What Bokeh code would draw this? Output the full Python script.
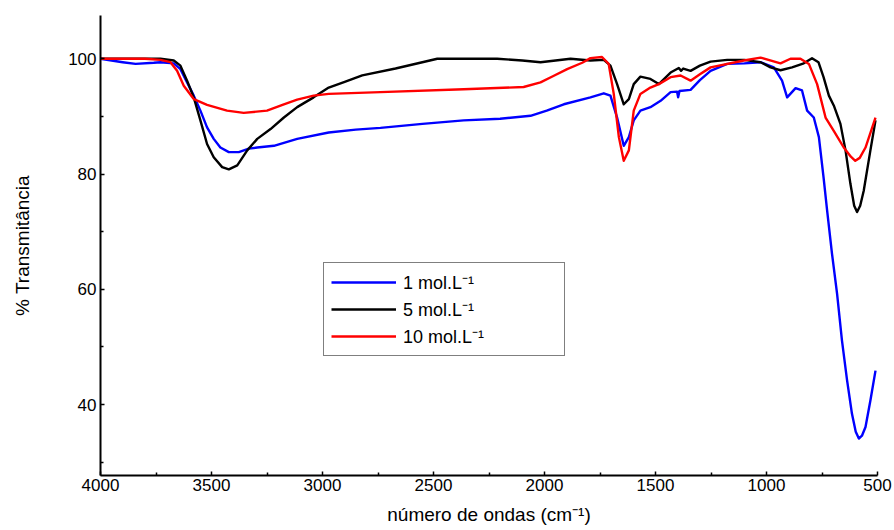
from bokeh.plotting import figure
from bokeh.models import Range1d, Legend, LegendItem, FixedTicker
from bokeh.embed import file_html
from bokeh.resources import INLINE

# 1 mol.L-1 (blue)
x1 = [4000, 3900, 3842, 3760, 3730, 3670, 3640, 3610, 3580, 3550, 3520, 3490, 3460, 3422, 3377, 3332, 3294, 3219,
      3114, 2972, 2850, 2739, 2550, 2364, 2200, 2063, 1990, 1913, 1793, 1733, 1703, 1673, 1643, 1620, 1598, 1568,
      1523, 1477, 1432, 1403, 1398, 1392, 1342, 1300, 1252, 1177, 1100, 1027, 967, 930, 907, 869, 840, 817, 787,
      764, 743, 727, 705, 682, 660, 637, 615, 598, 584, 570, 554, 532, 509]
y1 = [100, 99.4, 99.1, 99.3, 99.4, 99.2, 98.2, 95.9, 93.6, 91.0, 88.1, 86.1, 84.6, 83.8, 83.8, 84.4, 84.6, 84.9,
      86.1, 87.2, 87.7, 88.0, 88.7, 89.3, 89.6, 90.1, 91.0, 92.1, 93.3, 94.0, 93.6, 89.8, 84.9, 86.4, 89.3, 91.0,
      91.6, 92.7, 94.2, 94.3, 93.3, 94.4, 94.6, 96.3, 97.9, 99.1, 99.2, 99.4, 98.5, 96.2, 93.3, 94.9, 94.5, 91.0, 89.8,
      86.4, 79.4, 73.7, 66.2, 59.2, 51.1, 44.2, 38.4, 35.3, 34.1, 34.6, 36.1, 40.7, 45.9]

# 5 mol.L-1 (black)
x5 = [4000, 3800, 3730, 3670, 3640, 3610, 3580, 3550, 3520, 3490, 3452, 3422, 3384, 3339, 3294, 3234, 3174, 3114,
      3040, 2972, 2900, 2821, 2671, 2560, 2483, 2213, 2100, 2018, 1950, 1883, 1793, 1733, 1703, 1673, 1643, 1620,
      1598, 1568, 1523, 1485, 1432, 1395, 1385, 1375, 1342, 1300, 1252, 1177, 1100, 1027, 982, 937, 885, 832, 795,
      766, 743, 719, 697, 667, 644, 622, 605, 592, 578, 562, 532, 509]
y5 = [100, 100, 100, 99.7, 98.8, 96.2, 93.3, 89.3, 85.2, 82.9, 81.2, 80.8, 81.5, 84.1, 86.1, 87.8, 89.8, 91.6,
      93.3, 95.0, 96.0, 97.1, 98.3, 99.3, 100, 100, 99.7, 99.4, 99.7, 100, 99.7, 99.8, 98.8, 95.6, 92.1, 93.0,
      95.6, 96.9, 96.5, 95.6, 97.6, 98.4, 97.9, 98.3, 97.9, 98.8, 99.5, 99.8, 99.8, 99.4, 98.5, 98.0, 98.5, 99.2, 100.1,
      99.4, 96.8, 93.6, 91.9, 88.7, 84.1, 78.3, 74.5, 73.4, 74.5, 77.1, 84.1, 89.3]

# 10 mol.L-1 (red)
x10 = [4000, 3800, 3730, 3685, 3655, 3625, 3580, 3520, 3430, 3355, 3250, 3174, 3114, 3040, 2972, 2739, 2364, 2094,
       2018, 1960, 1898, 1830, 1793, 1741, 1711, 1688, 1665, 1643, 1620, 1598, 1568, 1523, 1485, 1432, 1387, 1342,
       1300, 1252, 1102, 1027, 937, 892, 847, 809, 772, 734, 697, 652, 620, 600, 580, 554, 509]
y10 = [100, 100, 99.8, 99.4, 97.9, 95.3, 93.0, 92.0, 91.0, 90.6, 91.0, 92.1, 92.9, 93.6, 93.9, 94.2, 94.7, 95.1,
       95.9, 97.0, 98.2, 99.3, 100.1, 100.3, 99.1, 93.9, 86.4, 82.3, 84.1, 91.0, 93.9, 95.0, 95.6, 96.8, 97.1, 96.2,
       97.3, 98.5, 99.7, 100.2, 99.2, 100, 100, 99.1, 95.6, 89.8, 87.5, 84.6, 83.0, 82.3, 82.8, 84.6, 89.8]

labels = ["1 mol.L⁻¹", "5 mol.L⁻¹", "10 mol.L⁻¹"]
colors = ["#0000ff", "#000000", "#ff0000"]
x_ticks = [4000, 3500, 3000, 2500, 2000, 1500, 1000, 500]
x_minor = [3750, 3250, 2750, 2250, 1750, 1250, 750]
y_ticks = [40, 60, 80, 100]
y_minor = [30, 50, 70, 90]

FONT = "Liberation Sans"

p = figure(width=894, height=530, output_backend="svg", toolbar_location=None,
           x_range=Range1d(4000, 500), y_range=Range1d(27.7, 107.5),
           min_border_left=100, min_border_right=17, min_border_top=15, min_border_bottom=55)
p.outline_line_color = None
p.grid.visible = False

r1 = p.line(x1, y1, line_color=colors[0], line_width=2.4, line_join="round")
r5 = p.line(x5, y5, line_color=colors[1], line_width=2.4, line_join="round")
r10 = p.line(x10, y10, line_color=colors[2], line_width=2.4, line_join="round")

for ax in (p.xaxis[0], p.yaxis[0]):
    ax.axis_line_width = 2
    ax.axis_line_color = "black"
    ax.major_tick_in = 4
    ax.major_tick_out = 0
    ax.minor_tick_in = 3
    ax.minor_tick_out = 0
    ax.major_tick_line_width = 1.5
    ax.minor_tick_line_width = 1.5
    ax.major_label_text_font = FONT
    ax.major_label_text_font_size = "17px"
    ax.major_label_text_color = "black"
    ax.axis_label_text_font = FONT
    ax.axis_label_text_font_size = "19px"
    ax.axis_label_text_font_style = "normal"
    ax.axis_label_text_color = "black"

p.xaxis[0].ticker = FixedTicker(ticks=x_ticks, minor_ticks=x_minor)
p.yaxis[0].ticker = FixedTicker(ticks=y_ticks, minor_ticks=y_minor)
p.xaxis[0].major_label_standoff = 3
p.yaxis[0].major_label_standoff = 4
p.xaxis[0].axis_label = "número de ondas (cm⁻¹)"
p.yaxis[0].axis_label = "% Transmitância"
p.xaxis[0].axis_label_standoff = 10
p.yaxis[0].axis_label_standoff = 32

legend = Legend(items=[LegendItem(label=labels[0], renderers=[r1]),
                       LegendItem(label=labels[1], renderers=[r5]),
                       LegendItem(label=labels[2], renderers=[r10])],
                location=(223, 119))
legend.border_line_color = "black"
legend.border_line_width = 1
legend.background_fill_alpha = 1
legend.padding = 7
legend.spacing = 3
legend.glyph_width = 65
legend.glyph_height = 22
legend.label_height = 22
legend.label_width = 154
legend.label_standoff = 7
legend.label_text_font = FONT
legend.label_text_font_size = "18px"
legend.label_text_color = "black"
legend.margin = 0
p.add_layout(legend)

open("out.html", "w").write(file_html(p, INLINE))
